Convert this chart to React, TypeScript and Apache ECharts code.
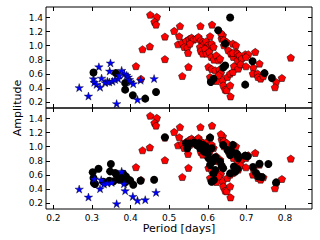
import React, { useEffect, useRef } from "react";
import * as echarts from "echarts";

const xTicks = [0.2, 0.3, 0.4, 0.5, 0.6, 0.7, 0.8];
const yTicks = [0.2, 0.4, 0.6, 0.8, 1.0, 1.2, 1.4];

// Red pentagons (same in both panels)
const redPts: number[][] = [
  [0.451, 1.44], [0.468, 1.41], [0.462, 1.34], [0.466, 1.30], [0.450, 0.99], [0.431, 0.95],
  [0.414, 0.71], [0.427, 0.53], [0.489, 1.13], [0.489, 0.81], [0.513, 1.21], [0.528, 1.28],
  [0.534, 0.57], [0.550, 0.70], [0.581, 1.28], [0.611, 1.30], [0.606, 1.135], [0.526, 1.135],
  [0.523, 1.02], [0.534, 1.045], [0.544, 1.068], [0.552, 1.097], [0.558, 1.115], [0.563, 1.087],
  [0.571, 1.10], [0.576, 1.125], [0.582, 1.078], [0.587, 1.054], [0.591, 1.03], [0.596, 1.063],
  [0.602, 1.016], [0.606, 0.992], [0.610, 1.03], [0.615, 0.983], [0.539, 0.983], [0.547, 0.974],
  [0.549, 0.898], [0.554, 1.03], [0.580, 0.983], [0.582, 0.926], [0.587, 0.888], [0.593, 0.959],
  [0.597, 0.888], [0.604, 0.912], [0.609, 0.841], [0.616, 0.803], [0.622, 0.864], [0.628, 0.793],
  [0.632, 0.817], [0.602, 0.70], [0.610, 0.67], [0.619, 0.651], [0.630, 0.66], [0.634, 0.613],
  [0.606, 0.556], [0.615, 0.509], [0.623, 0.50], [0.628, 0.58], [0.639, 0.509], [0.640, 0.438],
  [0.645, 0.376], [0.649, 0.366], [0.659, 0.28], [0.658, 0.438], [0.651, 0.556], [0.658, 0.604],
  [0.665, 0.627], [0.636, 1.10], [0.639, 1.149], [0.642, 1.007], [0.653, 0.936], [0.660, 0.888],
  [0.666, 0.841], [0.673, 0.912], [0.677, 0.793], [0.680, 0.70], [0.634, 1.18], [0.642, 1.08],
  [0.649, 1.054], [0.665, 1.03], [0.673, 1.007], [0.665, 0.898], [0.677, 0.888], [0.682, 0.864],
  [0.688, 0.817], [0.697, 0.879], [0.705, 0.879], [0.699, 0.84], [0.723, 0.912], [0.668, 0.71],
  [0.679, 0.675], [0.685, 0.736], [0.699, 0.708], [0.718, 0.689], [0.717, 0.604], [0.729, 0.604],
  [0.734, 0.746], [0.730, 0.556], [0.737, 0.533], [0.744, 0.566], [0.777, 0.485], [0.774, 0.41],
  [0.792, 0.542], [0.815, 0.831],
];

const blackTop: number[][] = [
  [0.304, 0.62], [0.362, 0.61], [0.386, 0.47], [0.386, 0.376], [0.406, 0.295], [0.438, 0.248],
  [0.466, 0.342], [0.658, 1.40], [0.627, 1.22], [0.645, 1.03], [0.645, 0.72], [0.640, 0.69],
  [0.615, 0.53], [0.608, 0.485], [0.697, 0.447], [0.716, 0.78], [0.747, 0.61], [0.766, 0.54],
];

const blueTop: number[][] = [
  [0.267, 0.405], [0.291, 0.285], [0.318, 0.70], [0.348, 0.755], [0.346, 0.64], [0.304, 0.53],
  [0.306, 0.48], [0.312, 0.45], [0.321, 0.41], [0.325, 0.54], [0.334, 0.476], [0.340, 0.494],
  [0.345, 0.484], [0.353, 0.494], [0.360, 0.519], [0.368, 0.53], [0.371, 0.58], [0.377, 0.65],
  [0.384, 0.60], [0.390, 0.58], [0.394, 0.556], [0.397, 0.52], [0.401, 0.485], [0.407, 0.46],
  [0.364, 0.177], [0.418, 0.235], [0.426, 0.51], [0.461, 0.533],
];

const blackBottom: number[][] = [
  [0.302, 0.636], [0.317, 0.688], [0.349, 0.754], [0.347, 0.65], [0.304, 0.555], [0.305, 0.484],
  [0.308, 0.47], [0.345, 0.517], [0.360, 0.626], [0.364, 0.602], [0.371, 0.531], [0.381, 0.617],
  [0.388, 0.579], [0.392, 0.541], [0.399, 0.522], [0.407, 0.46], [0.426, 0.517], [0.461, 0.531],
  [0.386, 0.493], [0.356, 0.508], [0.330, 0.50], [0.376, 0.56], [0.489, 1.134], [0.544, 1.048],
  [0.547, 0.977], [0.554, 1.044], [0.571, 1.025], [0.578, 1.048], [0.589, 1.025], [0.597, 0.953],
  [0.606, 1.129], [0.610, 0.977], [0.602, 0.835], [0.613, 0.788], [0.606, 0.74], [0.619, 0.669],
  [0.615, 0.621], [0.632, 0.788], [0.636, 0.73], [0.610, 0.503], [0.616, 0.527], [0.640, 1.025],
  [0.651, 0.953], [0.658, 0.882], [0.665, 1.025], [0.662, 0.93], [0.658, 0.621], [0.671, 0.645],
  [0.677, 0.882], [0.679, 0.835], [0.640, 0.693], [0.580, 0.977], [0.590, 0.93], [0.675, 0.9],
  [0.697, 0.872], [0.703, 0.863], [0.668, 0.72], [0.677, 0.683], [0.717, 0.711], [0.734, 0.759],
  [0.725, 0.626], [0.731, 0.578], [0.740, 0.569], [0.777, 0.493], [0.757, 0.755], [0.600, 0.90],
  [0.620, 0.85], [0.565, 1.06], [0.595, 1.0],
];

const blueBottom: number[][] = [
  [0.267, 0.398], [0.291, 0.285], [0.306, 0.541], [0.324, 0.531], [0.321, 0.403], [0.331, 0.47],
  [0.340, 0.484], [0.351, 0.493], [0.377, 0.65], [0.383, 0.474], [0.386, 0.375], [0.364, 0.19],
  [0.406, 0.294], [0.418, 0.237], [0.438, 0.247], [0.466, 0.351],
];

const PENTAGON = "path://M1,0 L1.951,0.691 L1.588,1.809 L0.412,1.809 L0.049,0.691 Z";
const STAR =
  "path://M1,0 L1.2245,0.691 L1.951,0.691 L1.3633,1.118 L1.588,1.809 L1,1.382 L0.412,1.809 L0.6367,1.118 L0.049,0.691 L0.7755,0.691 Z";

const FONT = "DejaVu Sans";

export default function App() {
  const ref = useRef<HTMLDivElement>(null);
  useEffect(() => {
    if (!ref.current) return;
    const chart = echarts.init(ref.current, undefined, { renderer: "svg" });
    const xMin = 0.181, xMax = 0.87, yMin = 0.115, yMax = 1.55;
    const fmt = (v: number) => v.toFixed(1);
    const mkX = (gridIndex: number, position: string, labels: boolean, name?: string) => ({
      type: "value",
      gridIndex,
      position,
      min: xMin,
      max: xMax,
      axisLine: { show: false },
      splitLine: { show: false },
      axisTick: { show: true, inside: true, length: 4, customValues: xTicks, lineStyle: { color: "#000", width: 1 } },
      axisLabel: {
        show: labels,
        customValues: xTicks,
        formatter: fmt,
        margin: 4,
        fontFamily: FONT,
        fontSize: 9,
        color: "#000",
      },
      name: name || "",
      nameLocation: "middle",
      nameGap: 14,
      nameTextStyle: { fontFamily: FONT, fontSize: 11, color: "#000", verticalAlign: "top" },
    });
    const mkY = (gridIndex: number, position: string, labels: boolean) => ({
      type: "value",
      gridIndex,
      position,
      min: yMin,
      max: yMax,
      axisLine: { show: false },
      splitLine: { show: false },
      axisTick: { show: true, inside: true, length: 4, customValues: yTicks, lineStyle: { color: "#000", width: 1 } },
      axisLabel: {
        show: labels,
        customValues: yTicks,
        formatter: fmt,
        margin: 3,
        fontFamily: FONT,
        fontSize: 9,
        color: "#000",
      },
    });
    const redSeries = (xi: number, yi: number) => ({
      type: "scatter",
      xAxisIndex: xi,
      yAxisIndex: yi,
      data: redPts,
      symbol: PENTAGON,
      symbolKeepAspect: true,
      symbolSize: 7.5,
      itemStyle: { color: "#ff0000", borderColor: "#000", borderWidth: 0.5, opacity: 1 },
      z: 2,
    });
    const blackSeries = (xi: number, yi: number, d: number[][]) => ({
      type: "scatter",
      xAxisIndex: xi,
      yAxisIndex: yi,
      data: d,
      symbol: "circle",
      symbolSize: 8,
      itemStyle: { color: "#000", opacity: 1 },
      z: 3,
    });
    const blueSeries = (xi: number, yi: number, d: number[][]) => ({
      type: "scatter",
      xAxisIndex: xi,
      yAxisIndex: yi,
      data: d,
      symbol: STAR,
      symbolKeepAspect: true,
      symbolSize: 8.5,
      itemStyle: { color: "#0000ff", borderColor: "#000", borderWidth: 0.4, opacity: 1 },
      z: 4,
    });
    chart.setOption({
      animation: false,
      backgroundColor: "#fff",
      grid: [
        { left: 46, width: 266, top: 7, height: 101, show: true, borderColor: "#000", borderWidth: 1, backgroundColor: "transparent" },
        { left: 46, width: 266, top: 108, height: 101, show: true, borderColor: "#000", borderWidth: 1, backgroundColor: "transparent" },
      ],
      xAxis: [
        mkX(0, "bottom", false),
        mkX(0, "top", false),
        mkX(1, "bottom", true, "Period [days]"),
        mkX(1, "top", false),
      ],
      yAxis: [mkY(0, "left", true), mkY(0, "right", false), mkY(1, "left", true), mkY(1, "right", false)],
      graphic: [
        {
          type: "text",
          x: 17,
          y: 108,
          rotation: Math.PI / 2,
          style: {
            text: "Amplitude",
            fontFamily: FONT,
            fontSize: 11,
            fill: "#000",
            textAlign: "center",
            textVerticalAlign: "middle",
          },
        },
      ],
      series: [
        redSeries(0, 0),
        blackSeries(0, 0, blackTop),
        blueSeries(0, 0, blueTop),
        redSeries(2, 2),
        blackSeries(2, 2, blackBottom),
        blueSeries(2, 2, blueBottom),
      ],
    });
    return () => chart.dispose();
  }, []);
  return (
    <div
      ref={ref}
      style={{ position: "fixed", left: 0, top: 0, width: 320, height: 240, background: "#fff" }}
    />
  );
}
